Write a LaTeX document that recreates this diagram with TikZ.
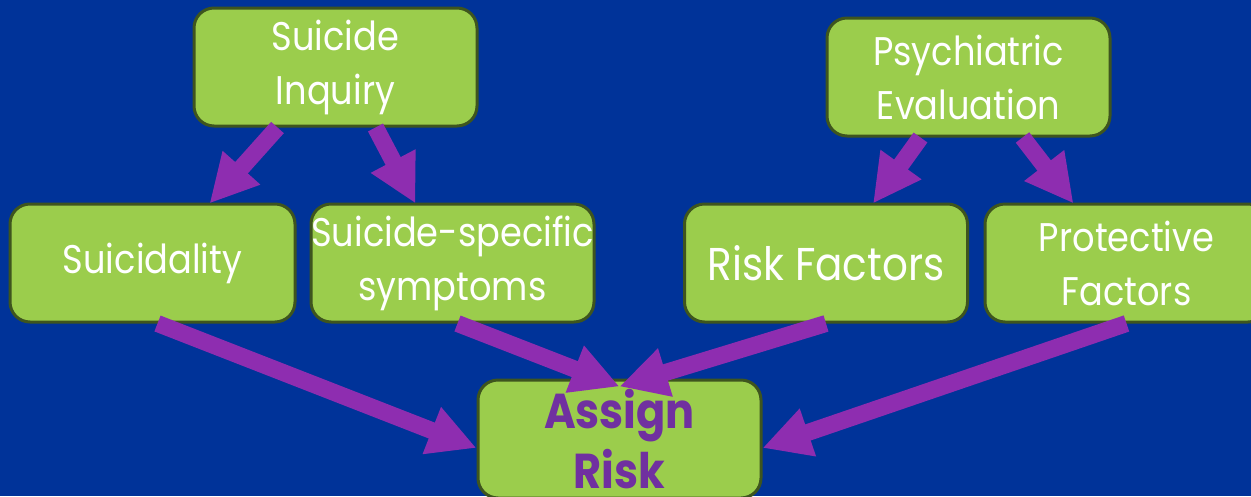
\documentclass[tikz,border=0pt]{standalone}
\usepackage{fontspec}
\setmainfont{Poppins}[FakeStretch=0.88]
\usetikzlibrary{arrows.meta,positioning}
\definecolor{bgblue}{RGB}{0,51,153}
\definecolor{boxgreen}{RGB}{155,205,76}
\definecolor{boxedge}{RGB}{62,85,30}
\definecolor{arrowpurple}{RGB}{142,45,176}
\definecolor{textpurple}{RGB}{112,48,160}
\tikzset{
  stepbox/.style={draw=boxedge, line width=3pt, fill=boxgreen, rounded corners=20pt,
    minimum width=283pt, minimum height=118pt, inner sep=0pt, align=center,
    text=white, font=\fontsize{40}{54}\selectfont},
  bigtext/.style={font=\fontsize{46}{54}\selectfont},
  resultbox/.style={stepbox, text=textpurple, font=\fontsize{49}{60}\selectfont\bfseries},
  fat/.style={draw=arrowpurple, line width=17pt,
    -{Triangle[width=47pt,length=48pt]}}
}
\begin{document}
\begin{tikzpicture}[x=1pt,y=-1pt]
  \fill[bgblue] (0,0) rectangle (1251,496);
  \useasboundingbox (0,0) rectangle (1251,496);
  \clip (0,0) rectangle (1251,496);

  % boxes
  \node[stepbox] (inq) at (335.5,67) {Suicide\\Inquiry};
  \node[stepbox] (psy) at (968.5,77) {Psychiatric\\Evaluation};
  \node[stepbox, minimum width=285pt] (sui) at (152.5,263) {Suicidality};
  \node[stepbox] (ssp) at (452.5,263) {Suicide-specific\\symptoms};
  \node[stepbox, bigtext] (rf) at (826,263) {Risk Factors};
  \node[stepbox] (pf) at (1126.5,263) {Protective\\Factors};
  \node[resultbox] (ar) at (619.5,439) {Assign\\Risk};

  % upper arrows
  \draw[fat] ([xshift=-58pt]inq.south) -- ([xshift=57pt,yshift=-1pt]sui.north);
  \draw[fat] ([xshift=40pt]inq.south) -- ([xshift=-37pt,yshift=-1pt]ssp.north);
  \draw[fat] ([xshift=-48pt]psy.south) -- ([xshift=47pt,yshift=-1pt]rf.north);
  \draw[fat] ([xshift=54pt]psy.south) -- ([xshift=-53pt,yshift=-1pt]pf.north);

  % lower arrows into the result
  \draw[fat] ([xshift=5pt]sui.south) -- ([yshift=-9pt]ar.west);
  \draw[fat] ([xshift=5pt]ssp.south) -- ([yshift=-8pt]ar.north);
  \draw[fat] ([xshift=0pt]rf.south) -- ([yshift=-8pt]ar.north);
  \draw[fat] ([xshift=0pt]pf.south) -- ([yshift=-9pt]ar.east);
\end{tikzpicture}
\end{document}
